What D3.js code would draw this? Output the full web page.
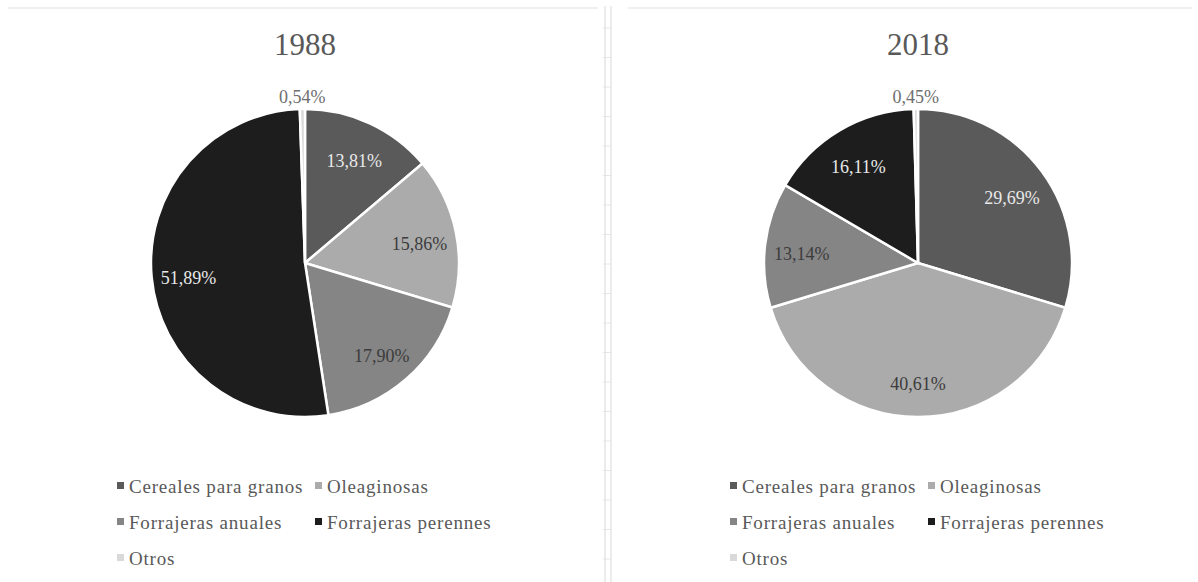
<!DOCTYPE html>
<html>
<head>
<meta charset="utf-8">
<script src="https://cdn.jsdelivr.net/npm/d3@7"></script>
<style>
  body { margin: 0; background: #fff; }
  text { font-family: "Liberation Serif", "Times New Roman", serif; }
</style>
</head>
<body>
<div id="chart"></div>
<script>
// data
var categories = ["Cereales para granos", "Oleaginosas", "Forrajeras anuales", "Forrajeras perennes", "Otros"];
var years = ["1988", "2018"];
var values1988 = [13.81, 15.86, 17.90, 51.89, 0.54];
var values2018 = [29.69, 40.61, 13.14, 16.11, 0.45];

var svgWidth = 1198;
var svgHeight = 582;

var colors = d3.scaleOrdinal()
  .domain(categories)
  .range(["#5a5a5a", "#ababab", "#858585", "#1d1d1d", "#d9d9d9"]);

var locale = d3.formatLocale({decimal: ",", thousands: ".", grouping: [3], currency: ["", ""]});
var fmt = locale.format(".2f");

var svg = d3.select("#chart")
  .append("svg")
  .attr("width", svgWidth)
  .attr("height", svgHeight);

// faint frame lines of the spreadsheet
svg.append("line").attr("x1", 8).attr("x2", 598).attr("y1", 8).attr("y2", 8)
  .attr("stroke", "#f0f0f0").attr("stroke-width", 2);
svg.append("line").attr("x1", 628).attr("x2", 1192).attr("y1", 8).attr("y2", 8)
  .attr("stroke", "#f0f0f0").attr("stroke-width", 2);

// divider between the two charts
var divider = svg.append("g").attr("stroke", "#d9d9d9");
divider.append("line").attr("x1", 605).attr("x2", 605).attr("y1", 6).attr("y2", svgHeight);
divider.append("line").attr("x1", 611).attr("x2", 611).attr("y1", 6).attr("y2", svgHeight);
divider.selectAll(".tick")
  .data(d3.range(28, svgHeight, 29.5))
  .enter()
  .append("line")
  .attr("x1", 603).attr("x2", 611)
  .attr("y1", d => d).attr("y2", d => d)
  .attr("stroke", "#e6e6e6");

var pie = d3.pie().sort(null).value(d => d.value);
var radius = 154;
var arc = d3.arc().innerRadius(0).outerRadius(radius);
var labelArc = d3.arc().innerRadius(radius * 0.76).outerRadius(radius * 0.76);
var outsideArc = d3.arc().innerRadius(radius * 1.08).outerRadius(radius * 1.08);

function drawPie(cx, year, values) {
  var data = categories.map((c, i) => ({category: c, value: values[i]}));

  var g = svg.append("g").attr("transform", `translate(${cx}, 0)`);

  // title
  g.append("text")
    .attr("x", 0)
    .attr("y", 55)
    .attr("text-anchor", "middle")
    .attr("font-size", 31)
    .attr("fill", "#595959")
    .text(year);

  var pieGroup = g.append("g").attr("transform", "translate(0, 263)");

  pieGroup.selectAll("path")
    .data(pie(data))
    .enter()
    .append("path")
    .attr("d", arc)
    .attr("fill", d => colors(d.data.category))
    .attr("stroke", "#fff")
    .attr("stroke-width", 2.5);

  // data labels, small slices go outside
  pieGroup.selectAll(".lbl")
    .data(pie(data))
    .enter()
    .append("text")
    .attr("class", "lbl")
    .attr("transform", function(d) {
      var p = d.data.value < 2 ? outsideArc.centroid(d) : labelArc.centroid(d);
      return `translate(${p[0]}, ${p[1] + (d.data.value < 2 ? 0 : 4)})`;
    })
    .attr("dy", "0.35em")
    .attr("text-anchor", "middle")
    .attr("font-size", 18)
    .attr("fill", function(d) {
      if (d.data.value < 2) return "#6e6e6e";
      var c = d3.hsl(colors(d.data.category));
      return c.l < 0.45 ? "#e8e8e8" : "#3c3c3c";
    })
    .text(d => fmt(d.data.value) + "%");

  // legend, two per row
  var rowY = [486, 522, 558];
  var colX = [-188, 10];
  var legend = g.selectAll(".legend")
    .data(categories)
    .enter()
    .append("g")
    .attr("class", "legend")
    .attr("transform", (d, i) => `translate(${colX[i % 2]}, ${rowY[Math.floor(i / 2)]})`);

  legend.append("rect")
    .attr("x", 0)
    .attr("y", -4)
    .attr("width", 7)
    .attr("height", 7)
    .attr("fill", d => colors(d));

  legend.append("text")
    .attr("x", 12)
    .attr("y", 0)
    .attr("dy", "0.35em")
    .attr("font-size", 19)
    .attr("letter-spacing", 0.8)
    .attr("fill", "#595959")
    .text(d => d);
}

drawPie(305, years[0], values1988);
drawPie(918, years[1], values2018);
</script>
</body>
</html>
